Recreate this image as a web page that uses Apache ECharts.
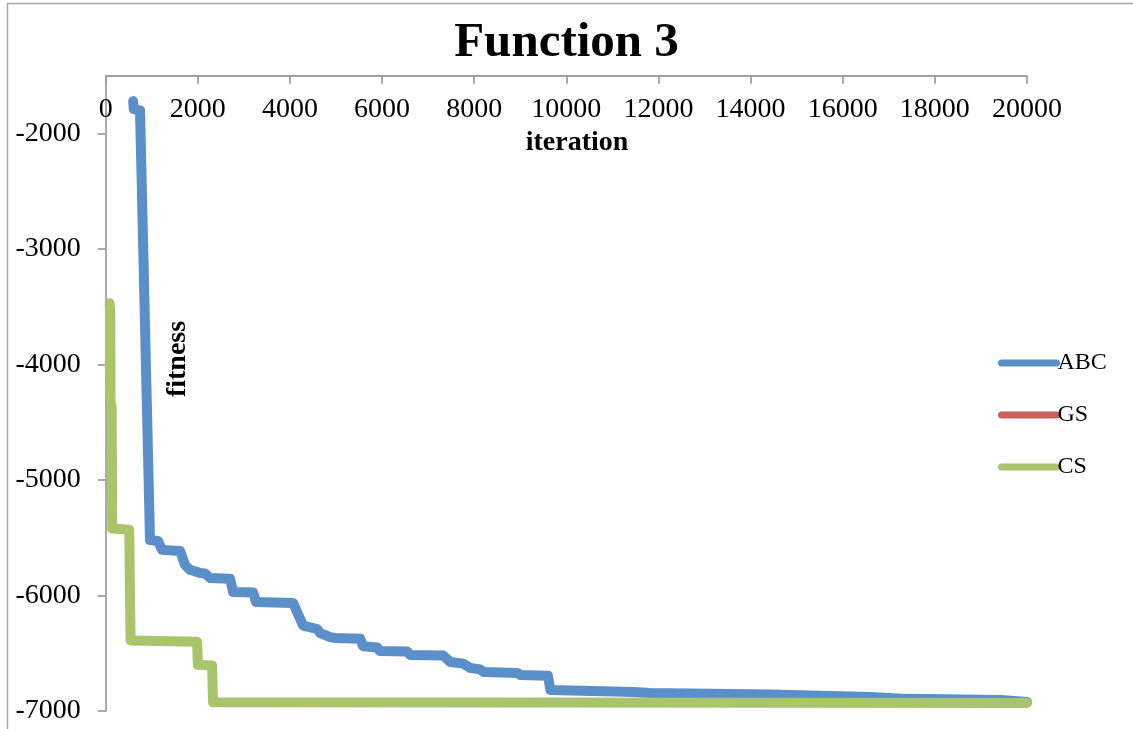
<!DOCTYPE html>
<html>
<head>
<meta charset="utf-8">
<script src="https://cdn.jsdelivr.net/npm/echarts@6/dist/echarts.min.js"></script>
<style>
html,body{margin:0;padding:0;background:#fff;}
#chart{width:1133px;height:729px;}
</style>
</head>
<body>
<div id="chart"></div>
<script>
// ---- data ----
const titleText = 'Function 3';
const xAxisName = 'iteration';
const yAxisName = 'fitness';
const seriesNames = ['ABC', 'GS', 'CS'];

const abcIterations = [595, 610, 745, 962, 1136, 1223, 1614, 1723, 1830, 1940, 2050, 2157, 2266, 2700, 2766, 3200, 3265, 4069, 4286, 4590, 4655, 4873, 4981, 5525, 5590, 5894, 5950, 6546, 6611, 7328, 7480, 7762, 7914, 8131, 8196, 8935, 9000, 9600, 9653, 11456, 11825, 14432, 16605, 17365, 19429, 20000];
const abcFitness    = [-1720, -1790, -1800, -5520, -5528, -5605, -5615, -5736, -5779, -5790, -5805, -5810, -5848, -5855, -5970, -5975, -6056, -6065, -6260, -6290, -6325, -6360, -6368, -6375, -6440, -6450, -6481, -6485, -6515, -6520, -6576, -6590, -6627, -6640, -6662, -6670, -6688, -6695, -6818, -6835, -6844, -6857, -6878, -6895, -6904, -6921];

// GS is listed in the legend but no GS line is visible in the picture
const gsIterations = [];
const gsFitness    = [];

const csIterations = [85, 100, 105, 130, 140, 510, 540, 1985, 2000, 2310, 2330, 20000];
const csFitness    = [-3470, -3560, -4330, -4370, -5420, -5430, -6390, -6400, -6600, -6605, -6925, -6930];

const seriesColors = ['#5b8fc9', '#cc605a', '#a9c46a'];

function pairs(xs, ys) { return xs.map((x, i) => [x, ys[i]]); }

const chart = echarts.init(document.getElementById('chart'), null, {renderer: 'canvas'});
const serif = 'Liberation Serif';
const axisGray = '#a0a0a0';
const plain = v => String(v);

const lineSeries = (name, data, color) => ({
  name: name,
  type: 'line',
  data: data,
  showSymbol: false,
  symbol: 'none',
  animation: false,
  color: color,
  lineStyle: {width: 10, color: color, cap: 'round', join: 'round'},
  emphasis: {disabled: true}
});

chart.setOption({
  animation: false,
  backgroundColor: '#ffffff',
  title: {
    text: titleText,
    left: 'center',
    top: 14,
    textStyle: {fontFamily: serif, fontWeight: 'bold', fontSize: 49, color: '#000'}
  },
  grid: {left: 105.7, right: 106, top: 75.7, bottom: 18, containLabel: false},
  legend: {
    orient: 'vertical',
    left: 993,
    top: 346,
    itemWidth: 55,
    itemHeight: 7,
    itemGap: 28,
    lineStyle: {width: 7, cap: 'round'},
    textStyle: {fontFamily: serif, fontSize: 24, lineHeight: 24, color: '#000', padding: [0, 0, 0, -4]},
    data: seriesNames
  },
  xAxis: {
    type: 'value',
    position: 'top',
    min: 0,
    max: 20000,
    interval: 2000,
    axisLine: {show: true, onZero: false, lineStyle: {color: axisGray, width: 1.8}},
    axisTick: {show: true, inside: true, length: 8, lineStyle: {color: axisGray, width: 1.8}},
    axisLabel: {inside: true, margin: 20, fontFamily: serif, fontSize: 28, color: '#000', formatter: plain},
    splitLine: {show: false}
  },
  yAxis: {
    type: 'value',
    min: -7000,
    max: -1500,
    interval: 1000,
    axisLine: {show: true, onZero: false, lineStyle: {color: axisGray, width: 1.8}},
    axisTick: {show: true, inside: false, length: 8, lineStyle: {color: axisGray, width: 1.8}},
    axisLabel: {margin: 25, fontFamily: serif, fontSize: 28, color: '#000', showMaxLabel: false, formatter: plain},
    splitLine: {show: false}
  },
  graphic: [
    {type: 'rect', silent: true, z: -10,
     shape: {x: 7.5, y: 3.5, width: 1140, height: 740},
     style: {fill: null, stroke: '#a6a6a6', lineWidth: 1.5}},
    {type: 'text', silent: true, x: 577, y: 143,
     style: {text: xAxisName, fontFamily: serif, fontWeight: 'bold', fontSize: 28, fill: '#000', align: 'center', verticalAlign: 'middle'}},
    {type: 'text', silent: true, x: 178, y: 359, rotation: Math.PI / 2,
     style: {text: yAxisName, fontFamily: serif, fontWeight: 'bold', fontSize: 28, fill: '#000', align: 'center', verticalAlign: 'middle'}}
  ],
  series: [
    lineSeries(seriesNames[0], pairs(abcIterations, abcFitness), seriesColors[0]),
    lineSeries(seriesNames[1], pairs(gsIterations, gsFitness), seriesColors[1]),
    lineSeries(seriesNames[2], pairs(csIterations, csFitness), seriesColors[2])
  ]
});
</script>
</body>
</html>
